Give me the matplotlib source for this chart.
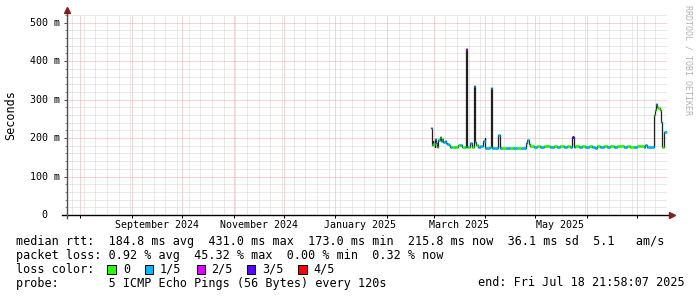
import pandas as pd
import matplotlib
matplotlib.use("Agg")
from matplotlib import pyplot as plt
from matplotlib import dates as mdates
from matplotlib import ticker
from matplotlib.patches import Rectangle
from matplotlib.transforms import blended_transform_factory

# Fuente monoespaciada, como rrdtool
plt.rcParams["font.family"] = "DejaVu Sans Mono"

# Mediana del rtt (ms) y perdida (pings perdidos de 5) por fecha
fechas = [
    "2025-02-27 07:00", "2025-02-27 19:00", "2025-02-28 09:00", "2025-02-28 19:00",
    "2025-03-01 10:00", "2025-03-02 00:00", "2025-03-02 14:00", "2025-03-03 05:00",
    "2025-03-03 19:00", "2025-03-04 14:00", "2025-03-05 05:00", "2025-03-05 19:00",
    "2025-03-06 12:00", "2025-03-07 10:00", "2025-03-08 07:00", "2025-03-09 05:00",
    "2025-03-10 02:00", "2025-03-11 00:00", "2025-03-12 05:00", "2025-03-13 10:00",
    "2025-03-14 14:00", "2025-03-15 19:00", "2025-03-17 00:00", "2025-03-18 05:00",
    "2025-03-19 10:00", "2025-03-20 02:00", "2025-03-20 22:00", "2025-03-21 19:00",
    "2025-03-23 00:00", "2025-03-23 22:00", "2025-03-25 02:00", "2025-03-25 22:00",
    "2025-03-26 14:00", "2025-03-27 12:00", "2025-03-29 00:00", "2025-03-30 12:00",
    "2025-03-31 10:00", "2025-04-01 00:00", "2025-04-02 05:00", "2025-04-03 10:00",
    "2025-04-04 02:00", "2025-04-04 22:00", "2025-04-06 10:00", "2025-04-08 18:00",
    "2025-04-09 17:00", "2025-04-11 05:00", "2025-04-13 14:00", "2025-04-15 10:00",
    "2025-04-17 19:00", "2025-04-20 05:00", "2025-04-22 14:00", "2025-04-25 14:00",
    "2025-04-26 05:00", "2025-04-27 02:00",
    "2025-04-28 00:00", "2025-04-30 00:00", "2025-05-02 00:00", "2025-05-04 00:00",
    "2025-05-06 00:00", "2025-05-08 00:00", "2025-05-10 00:00", "2025-05-12 00:00",
    "2025-05-14 00:00", "2025-05-16 00:00", "2025-05-18 00:00", "2025-05-20 00:00",
    "2025-05-22 00:00", "2025-05-23 00:00", "2025-05-23 20:00", "2025-05-25 00:00",
    "2025-05-27 00:00", "2025-05-29 00:00", "2025-05-31 00:00", "2025-06-02 00:00",
    "2025-06-04 00:00", "2025-06-06 00:00", "2025-06-07 00:00", "2025-06-09 00:00",
    "2025-06-11 00:00", "2025-06-13 00:00", "2025-06-15 00:00", "2025-06-17 00:00",
    "2025-06-19 00:00", "2025-06-21 00:00", "2025-06-23 00:00", "2025-06-25 00:00",
    "2025-06-27 00:00", "2025-06-29 00:00", "2025-07-01 00:00", "2025-07-03 00:00",
    "2025-07-05 00:00", "2025-07-06 00:00", "2025-07-07 00:00", "2025-07-09 00:00",
    "2025-07-10 22:00", "2025-07-11 14:00", "2025-07-12 07:00", "2025-07-12 22:00",
    "2025-07-13 19:00", "2025-07-14 14:00", "2025-07-15 05:00", "2025-07-15 19:00",
    "2025-07-17 00:00",
]
mediana = [
    225, 182, 192, 185, 177, 198, 186, 178, 194, 203, 192, 197,
    189, 192, 186, 184, 182, 178, 177, 176, 178, 181, 183, 177,
    178, 431, 178, 176, 186, 177, 335, 190, 182, 176, 180, 192,
    199, 174, 173, 176, 329, 174, 173, 208, 175, 174, 175, 174,
    175, 174, 175, 186, 194, 184,
    179.5, 178.0, 179.0, 177.5, 179.5, 178.5, 177.5, 179.0,
    178.0, 179.5, 177.0, 178.5, 177.5, 203.0, 178.0, 179.0,
    177.5, 178.5, 177.0, 179.0, 177.5, 174.5, 178.5, 177.5,
    179.0, 178.0, 179.0, 177.5, 179.5, 178.5, 177.0, 179.0,
    178.0, 177.5, 179.0, 178.5, 177.5, 181.5, 177.5, 178.0,
    260, 273, 288, 281, 278, 273, 242, 177, 216,
]
perdida = [
    1, 0, 1, 0, 1, 1, 1, 0, 1, 0, 1, 0,
    1, 1, 1, 1, 0, 1, 0, 1, 0, 0, 1, 0,
    1, 2, 1, 0, 1, 0, 1, 1, 0, 1, 1, 1,
    1, 1, 1, 0, 1, 1, 1, 1, 1, 0, 1, 0,
    1, 0, 1, 1, 1, 0,
    0, 1, 0, 1, 0, 0, 1, 0,
    1, 0, 1, 0, 1, 3, 1, 0,
    1, 0, 1, 0, 1, 1, 0, 1,
    0, 1, 0, 1, 0, 0, 1, 0,
    0, 1, 0, 0, 1, 1, 1, 1,
    0, 0, 1, 0, 0, 0, 1, 0, 1,
]

fin = "2025-07-18 21:58:07"
dias_grafica = 360

etiquetas_fecha = ["2024-09-16", "2024-11-16", "2025-01-16", "2025-03-16", "2025-05-16"]
etiquetas_texto = ["September 2024", "November 2024", "January 2025", "March 2025", "May 2025"]

valores_y = [0, 100, 200, 300, 400, 500]
textos_y = ["0", "100 m", "200 m", "300 m", "400 m", "500 m"]

colores_perdida = ["#26ff00", "#00b8ff", "#dd00ff", "#5e00ff", "#ff0000"]
nombres_perdida = ["0", "1/5", "2/5", "3/5", "4/5"]

linea_rtt = "median rtt:  184.8 ms avg  431.0 ms max  173.0 ms min  215.8 ms now  36.1 ms sd  5.1   am/s"
linea_perdida = "packet loss: 0.92 % avg  45.32 % max  0.00 % min  0.32 % now"
linea_probe = "probe:       5 ICMP Echo Pings (56 Bytes) every 120s"
linea_fin = "end: Fri Jul 18 21:58:07 2025"

W, H = 697, 297


def fy(y):
    # pixel vertical -> fraccion de figura
    return 1 - y / H


fig = plt.figure(figsize=(W / 100, H / 100), dpi=100)
fig.patch.set_facecolor("white")
ax = fig.add_axes([67 / W, fy(215), 600 / W, 200 / H])

t_fin = pd.Timestamp(fin)
t_ini = t_fin - pd.Timedelta(days=dias_grafica)
x = mdates.date2num(pd.to_datetime(fechas))
x_fin = mdates.date2num(t_fin)
x_sig = list(x[1:]) + [x_fin]

# Linea negra de la mediana y tramos coloreados por perdida
ax.step(list(x) + [x_fin], mediana + [mediana[-1]], where="post",
        color="#202020", lw=0.9, zorder=3)
ax.hlines(mediana, x, x_sig, colors=[colores_perdida[p] for p in perdida],
          lw=2.0, zorder=4, capstyle="butt")

ax.set_xlim(mdates.date2num(t_ini), x_fin)
ax.set_ylim(0, 520)

# Rejilla: semanas (sabados) y meses; 20 ms y 100 ms
ax.xaxis.set_major_locator(mdates.MonthLocator())
ax.xaxis.set_minor_locator(mdates.WeekdayLocator(byweekday=mdates.SA))
ax.yaxis.set_major_locator(ticker.FixedLocator(valores_y))
ax.yaxis.set_minor_locator(ticker.MultipleLocator(20))
ax.set_axisbelow(True)
ax.grid(True, which="minor", color="#d4d4d4", linestyle=(0, (1, 1)), lw=0.72)
ax.grid(True, which="major", color="#f0a8a8", linestyle=(0, (1, 1)), lw=0.72)

ax.tick_params(axis="x", which="major", length=2.2, width=0.72, color="black",
               labelbottom=False)
ax.tick_params(axis="x", which="minor", length=0)
ax.tick_params(axis="y", which="major", length=2.2, width=0.72, color="#505050",
               labelleft=False)
ax.tick_params(axis="y", which="minor", length=1.4, width=0.72, color="#909090")
for s in ax.spines.values():
    s.set_visible(False)

# Ejes con flechas
ax.plot([-5 / 600, 1 + 2 / 600], [0, 0], transform=ax.transAxes, color="black",
        lw=1.0, clip_on=False, zorder=5)
ax.plot([0, 0], [-3 / 200, 1 + 2 / 200], transform=ax.transAxes, color="#505050",
        lw=1.0, clip_on=False, zorder=5)
ax.plot([1 + 5 / 600], [0], marker=">", ms=4, color="#8b1a1a", mec="#8b1a1a",
        transform=ax.transAxes, clip_on=False, zorder=6)
ax.plot([0], [1 + 5 / 200], marker="^", ms=4, color="#8b1a1a", mec="#8b1a1a",
        transform=ax.transAxes, clip_on=False, zorder=6)

# Etiquetas de los ejes
trans_x = blended_transform_factory(ax.transData, ax.transAxes)
for f, t in zip(etiquetas_fecha, etiquetas_texto):
    ax.text(mdates.date2num(pd.Timestamp(f)), -9.5 / 200, t, transform=trans_x,
            ha="center", va="center", fontsize=7.2)

trans_y = blended_transform_factory(ax.transAxes, ax.transData)
for v, t in zip(valores_y, textos_y):
    derecha = -7 / 600 if v else -20 / 600
    ax.text(derecha, v, t, transform=trans_y, ha="right", va="center", fontsize=7.2)

fig.text(11 / W, fy(115), "Seconds", rotation=90, ha="center", va="center", fontsize=8.5)
fig.text(688 / W, fy(5), "RRDTOOL / TOBI OETIKER", rotation=270, ha="center", va="top",
         fontsize=6, color="#b4b4b4")

# Leyenda de texto
fig.text(16 / W, fy(241), linea_rtt, ha="left", va="center", fontsize=8.5)
fig.text(16 / W, fy(255), linea_perdida, ha="left", va="center", fontsize=8.5)
fig.text(16 / W, fy(269.5), "loss color:", ha="left", va="center", fontsize=8.5)
fig.text(16 / W, fy(283), linea_probe, ha="left", va="center", fontsize=8.5)
fig.text(478 / W, fy(283), linea_fin, ha="left", va="center", fontsize=8.5)

cuadro_x = [107.3, 145, 196.7, 246.7, 298.3]
texto_x = [123.3, 160, 211, 261.7, 313.3]
for cx, tx, c, n in zip(cuadro_x, texto_x, colores_perdida, nombres_perdida):
    fig.patches.append(Rectangle((cx / W, fy(273.6)), 8.3 / W, 8.3 / H,
                                 transform=fig.transFigure, facecolor=c,
                                 edgecolor="black", lw=0.72))
    fig.text(tx / W, fy(269.5), n, ha="left", va="center", fontsize=8.5)

fig.savefig("out.png", dpi=100, facecolor="white")
